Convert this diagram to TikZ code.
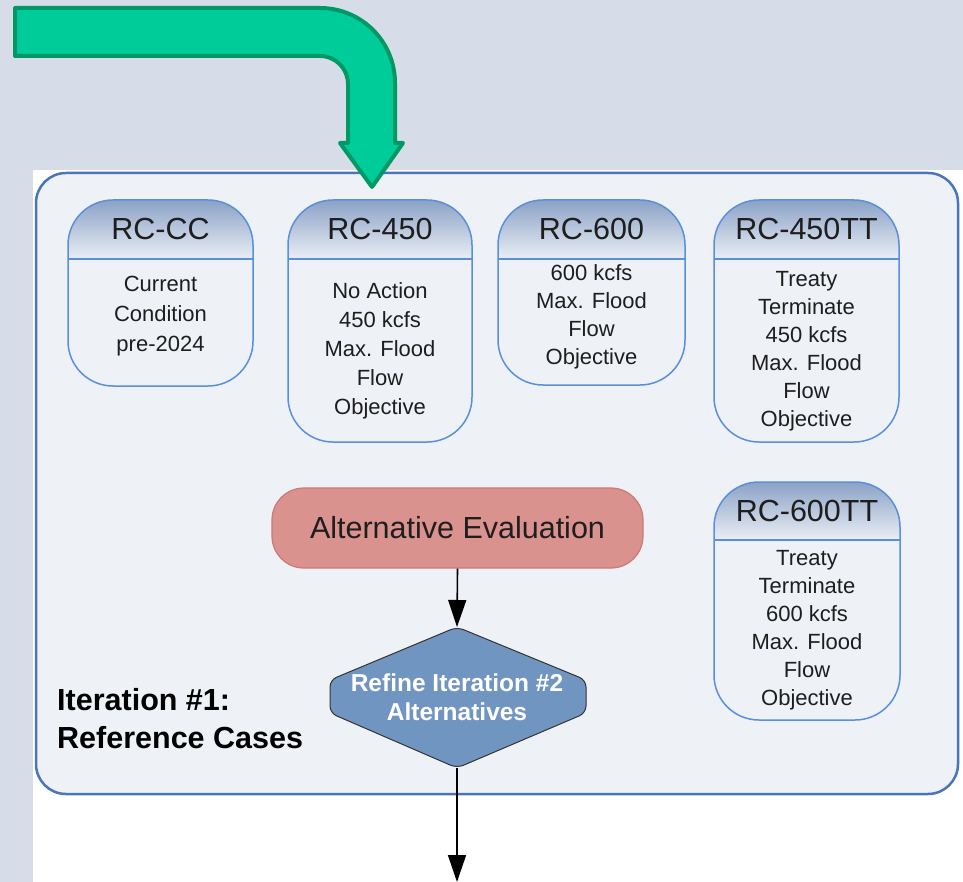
\documentclass[tikz,border=0pt]{standalone}
\usepackage{fontspec}
\setmainfont{Liberation Sans}
\usetikzlibrary{arrows.meta}
\definecolor{bgout}{HTML}{D6DDE8}
\definecolor{boxfill}{HTML}{EEF1F6}
\definecolor{boxline}{HTML}{4A76B9}
\definecolor{cardline}{HTML}{5A8FDB}
\definecolor{hdrtop}{HTML}{8BA2C6}
\definecolor{hdrbot}{HTML}{EAEEF5}
\definecolor{pinkfill}{HTML}{DA928F}
\definecolor{pinkline}{HTML}{C97A76}
\definecolor{diafill}{HTML}{7195C1}
\definecolor{greenfill}{HTML}{00CC99}
\definecolor{greenline}{HTML}{009966}
\definecolor{txt}{HTML}{1E1E1E}
\newcommand{\cardfont}{\fontsize{22}{28}\selectfont}
\newcommand{\hdrfont}{\fontsize{30.5}{35}\selectfont}
\tikzset{
  cardbox/.style={draw=cardline, line width=1.5pt, rounded corners=45pt, inner sep=0pt, outer sep=0pt},
  cardtitle/.style={font=\hdrfont, text=txt, inner sep=0pt},
  cardbody/.style={font=\cardfont, text=txt, align=center, inner sep=0pt},
  flowarr/.style={draw=black, line width=1.6pt, -{Triangle[length=27pt,width=18pt]}},
}
% #1 name, #2 x1, #3 y1, #4 x2, #5 y2, #6 header line y, #7 title, #8 body, #9 body centre y
\newcommand{\rccard}[9]{%
  \fill[boxfill, rounded corners=45pt] (#2,#3) rectangle (#4,#5);
  \begin{scope}
    \clip[rounded corners=45pt] (#2,#3) rectangle (#4,#5);
    \shade[top color=hdrtop, bottom color=hdrbot] (#2,#3) rectangle (#4,#6);
  \end{scope}
  \draw[cardline, line width=1.5pt] (#2,#6) -- (#4,#6);
  \node[cardbox, minimum width={(#4-#2)*1pt}, minimum height={(#5-#3)*1pt}] (#1) at ({(#2+#4)/2},{(#3+#5)/2}) {};
  \node[cardtitle] (#1-title) at ({(#2+#4)/2},{(#3+#6)/2}) {#7};
  \node[cardbody] (#1-body) at ({(#2+#4)/2},#9) {#8};
}
\begin{document}
\begin{tikzpicture}[x=1pt,y=-1pt]
\useasboundingbox (0,0) rectangle (963,882);
\fill[bgout] (0,0) rectangle (963,882);
\fill[white] (33,170) rectangle (963,882);
% main frame
\node[draw=boxline, fill=boxfill, line width=2.5pt, rounded corners=30pt,
      minimum width=922pt, minimum height=621pt, inner sep=0pt] (frame) at (497,483.5) {};
% green arrow
\filldraw[fill=greenfill, draw=greenline, line width=4pt, line join=round]
  (15,8) -- (320,8) arc[start angle=-90, end angle=0, radius=75]
  -- (395,143) -- (403,143) -- (372,187) -- (340,143) -- (348,143)
  -- (348,84) arc[start angle=0, end angle=-90, radius=28]
  -- (15,56) -- cycle;
% cards
\rccard{rccc}{68}{200}{253}{386}{259}{RC-CC}{Current\\[2pt]Condition\\[2pt]pre-2024}{316.5}
\rccard{rc450}{288}{200}{472}{442}{259}{RC-450}{No Action\\[1pt]450 kcfs\\[1pt]Max. Flood\\[1pt]Flow\\[1pt]Objective}{351}
\rccard{rc600}{498}{200}{685}{385}{259}{RC-600}{600 kcfs\\Max. Flood\\Flow\\Objective}{316.5}
\rccard{rc450tt}{714}{200}{899}{442}{259}{RC-450TT}{Treaty\\Terminate\\450 kcfs\\Max. Flood\\Flow\\Objective}{351.5}
\rccard{rc600tt}{714}{482}{900}{720}{540}{RC-600TT}{Treaty\\Terminate\\600 kcfs\\Max. Flood\\Flow\\Objective}{630}
% alternative evaluation
\node[draw=pinkline, fill=pinkfill, line width=1.2pt, rounded corners=32pt,
      minimum width=371pt, minimum height=80pt, inner sep=0pt,
      font=\fontsize{30.5}{35}\selectfont, text=txt] (alt) at (457.5,528) {Alternative Evaluation};
% decision shape
\filldraw[fill=diafill, draw=black!80, line width=1pt, rounded corners=7pt]
  (457,627) -- (586,680) -- (586,713) -- (457,768) -- (330,713) -- (330,680) -- cycle;
\coordinate (dtop) at (457,627);
\coordinate (dbot) at (457,768);
\coordinate (exit) at (457,882);
\node[font=\bfseries\fontsize{24.5}{29}\selectfont, text=white, align=center, inner sep=0pt] (refine) at (457,697.5) {Refine Iteration \#2\\Alternatives};
% label
\node[font=\bfseries\fontsize{30.5}{38}\selectfont, text=black, align=left, anchor=west, inner sep=0pt] (iter) at (57,719) {Iteration \#1:\\Reference Cases};
% connectors
\draw[flowarr] (alt.south) -- (dtop);
\draw[flowarr] (dbot) -- (exit);
\end{tikzpicture}
\end{document}
